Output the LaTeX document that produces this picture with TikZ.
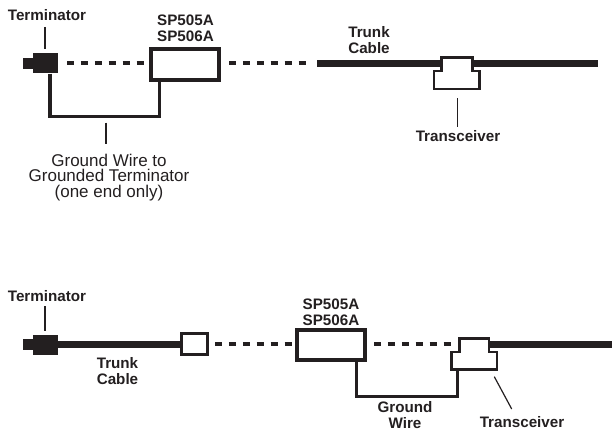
\documentclass[tikz,border=0pt]{standalone}
\usepackage{fontspec}
\setmainfont{Liberation Sans}
\usepackage{xcolor}
\definecolor{inkblack}{HTML}{231F20}
\tikzset{
  unitbox/.style={draw=inkblack,fill=white,line width=4pt,inner sep=0pt},
  termbody/.style={fill=inkblack,inner sep=0pt},
  dashwire/.style={draw=inkblack,line width=3.8pt,dash pattern=on 7.3pt off 6.6pt},
  trunkwire/.style={draw=inkblack,line width=6.8pt},
  groundwire/.style={draw=inkblack,line width=3.4pt,line join=miter},
  leader/.style={draw=inkblack,line width=1.2pt},
  xcvr/.style={draw=inkblack,fill=white,line width=2.5pt},
  boldtext/.style={inner sep=0pt,align=center,font=\fontsize{15.2}{16}\selectfont\bfseries},
  plaintext/.style={inner sep=0pt,align=center,font=\fontsize{17}{15.4}\selectfont}
}
\begin{document}
\begin{tikzpicture}[x=1pt,y=-1pt,text=inkblack]
\useasboundingbox (0,0) rectangle (612,430);
% upper run
\node[termbody,minimum width=25pt,minimum height=20pt] (termA) at (45.5,63.5) {};
\node[termbody,minimum width=11pt,minimum height=11pt] (capA) at (28.5,63.5) {};
\node[unitbox,minimum width=68pt,minimum height=31pt] (unitA) at (185,64.5) {};
\node[boldtext] (termlabelA) at (47,15) {Terminator};
\node[boldtext] (unitlabelA) at (185.5,28.5) {SP505A\\SP506A};
\node[boldtext] (trunklabelA) at (369,40.5) {Trunk\\Cable};
\node[boldtext] (xcvrlabelA) at (458,136) {Transceiver};
\node[plaintext] (groundlabelA) at (109,177.5) {Ground Wire to\\Grounded Terminator\\(one end only)};
\coordinate (dashA) at (67,63.3);
\coordinate (dashB) at (143.8,63.3);
\coordinate (dashC) at (229,63.3);
\coordinate (dashD) at (305.8,63.3);
\coordinate (trunkA) at (317.3,63.5);
\coordinate (trunkB) at (597.7,63.5);
\coordinate (groundA) at (50,116.7);
\coordinate (groundB) at (159.7,116.7);
\draw[leader] (45,27) -- (45,49);
\draw[dashwire] (dashA) -- (dashB);
\draw[dashwire] (dashC) -- (dashD);
\draw[trunkwire] (trunkA) -- (trunkB);
\draw[groundwire] (termA.south -| groundA) -- (groundA) -- (groundB) -- (unitA.south -| groundB);
\draw[leader] (106,122.7) -- (106,144.3);
\draw[xcvr] (441.5,57.3) -- (472.5,57.3) -- (472.5,71) -- (479.7,71) -- (479.7,89) -- (434,89) -- (434,71) -- (441.5,71) -- cycle;
\draw[leader] (457.3,98.3) -- (457.3,126.7);
% lower run
\node[termbody,minimum width=25pt,minimum height=20pt] (termB) at (45.5,344.5) {};
\node[termbody,minimum width=11pt,minimum height=11pt] (capB) at (28.5,344.5) {};
\node[boldtext] (termlabelB) at (47,296) {Terminator};
\node[boldtext] (unitlabelB) at (331,312) {SP505A\\SP506A};
\node[boldtext] (trunklabelB) at (117.5,371) {Trunk\\Cable};
\node[boldtext] (groundlabelB) at (405,415.5) {Ground\\Wire};
\node[boldtext] (xcvrlabelB) at (522,422) {Transceiver};
\coordinate (dashE) at (215,344.3);
\coordinate (dashF) at (291.8,344.3);
\coordinate (dashG) at (374,344.3);
\coordinate (dashH) at (450.8,344.3);
\coordinate (trunkC) at (489,344.5);
\coordinate (trunkD) at (612,344.5);
\coordinate (groundC) at (356,396);
\coordinate (groundD) at (457,396);
\draw[trunkwire] (termB.east) -- (183,344.5);
\node[unitbox,line width=3pt,minimum width=25.4pt,minimum height=21pt] (stubB) at (194.5,344.3) {};
\node[unitbox,minimum width=67.7pt,minimum height=30.6pt] (unitB) at (330.9,345) {};
\draw[dashwire] (dashE) -- (dashF);
\draw[dashwire] (dashG) -- (dashH);
\draw[trunkwire] (trunkC) -- (trunkD);
\draw[groundwire,line width=3pt] (unitB.south -| groundC) -- (groundC) -- (groundD) -- (457,370);
\draw[xcvr] (459.5,338.5) -- (489,338.5) -- (489,352) -- (497,352) -- (497,369.5) -- (451.5,369.5) -- (451.5,352) -- (459.5,352) -- cycle;
\draw[leader] (494.3,376.7) -- (511.7,409);
\draw[leader] (45,306) -- (45,331);
\end{tikzpicture}
\end{document}
